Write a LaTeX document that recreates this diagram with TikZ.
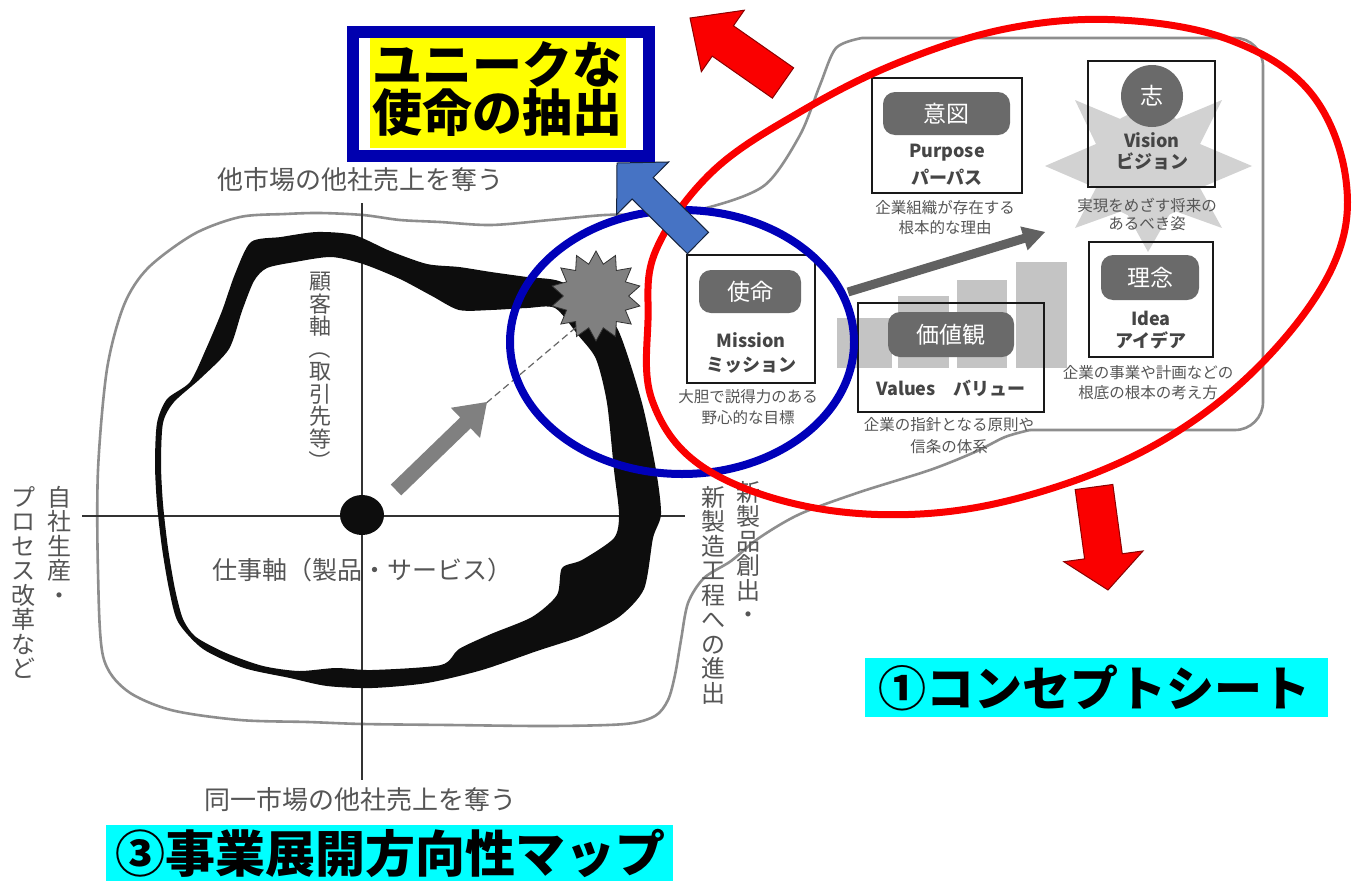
\documentclass[tikz,border=0pt]{standalone}
\usepackage{fontspec}
\setmainfont{Noto Sans CJK JP}
\usetikzlibrary{shapes.geometric}
\definecolor{lbl}{HTML}{555555}
\definecolor{boxtxt}{HTML}{454545}
\definecolor{pillc}{HTML}{6A6A6A}
\definecolor{ringblue}{RGB}{0,0,185}
\definecolor{titleblue}{RGB}{0,0,175}
\definecolor{ringred}{RGB}{250,0,0}
\definecolor{arrblue}{RGB}{70,115,196}
\definecolor{outlgray}{HTML}{8E8E8E}
\definecolor{barg}{HTML}{C4C4C4}
\definecolor{burstg}{HTML}{D2D2D2}
\definecolor{hlcyan}{RGB}{0,255,255}
\definecolor{hlyellow}{RGB}{255,255,0}
\newcommand\blockarrow[8]{%
 \pgfmathsetmacro\bdx{#3-#1}%
 \pgfmathsetmacro\bdy{#4-#2}%
 \pgfmathsetmacro\bang{atan2(-\bdy,\bdx)}%
 \pgfmathsetmacro\blen{veclen(\bdx,\bdy)}%
 \pgfmathsetmacro\bneck{\blen-#7}%
 \pgfmathsetmacro\bsw{#5/2}%
 \pgfmathsetmacro\bhw{#6/2}%
 \path[#8, shift={(#1,#2)}, rotate=\bang] (0,-\bsw) -- (\bneck,-\bsw) -- (\bneck,-\bhw) -- (\blen,0) -- (\bneck,\bhw) -- (\bneck,\bsw) -- (0,\bsw) -- cycle;}
\newcommand\vparen[1]{\rotatebox[origin=c]{-90}{#1}}
\tikzset{
 outl/.style={draw=outlgray, line width=2.6pt},
 axisline/.style={draw=black!80, line width=1.3pt},
 lbl/.style={text=lbl, inner sep=0pt, font=\fontsize{26}{26}\selectfont},
 vlbl/.style={text=lbl, inner sep=0pt, align=center, anchor=north, font=\fontsize{24}{24.5}\selectfont},
 cbox/.style={draw=black!90, line width=2.4pt, inner sep=0pt, outer sep=0pt},
 pillbox/.style={fill=pillc, rounded corners=12pt, inner sep=0pt, text=white, font=\fontsize{23}{23}\selectfont},
 btxt/.style={text=boxtxt, inner sep=0pt, font=\fontsize{18}{18}\selectfont\bfseries},
 captxt/.style={text=lbl, inner sep=0pt, font=\fontsize{15.5}{15.5}\selectfont},
 bigtitle/.style={inner sep=0pt, text=black, font=\fontsize{50}{50}\selectfont\bfseries},
}
\begin{document}
\begin{tikzpicture}[x=1pt,y=-1pt]
\useasboundingbox (0,0) rectangle (1357,881);
\fill[white] (0,0) rectangle (1357,881);

% ---------- gray outline (concept sheet + map blob)
\draw[outl, rounded corners=28pt] (1030,430) -- (1263,430) -- (1263,38) -- (862,38);
\draw[outl] plot[smooth, tension=0.5] coordinates {(862,38) (836,48) (820,85) (800,135) (765,185) (710,207) (660,214) (605,215) (550,220) (491,225) (440,222) (400,220) (363,215) (320,213) (285,214) (240,217) (194,234) (148,268) (124,305) (107,369) (98,470) (98,572) (103,656) (126,690) (171,710) (240,720) (308,722) (363,724) (450,725) (550,726) (625,724) (655,716) (668,700) (675,675) (681,640) (688,603) (704,578) (731,561) (759,538) (800,514) (860,492) (930,470) (975,452) (1005,437) (1030,430)};

% ---------- axes
\draw[axisline] (82,516) -- (685,516);
\draw[axisline] (362,203) -- (362,780);

% ---------- thick black loop
\fill[black!95, even odd rule]
 plot[smooth cycle, tension=0.45] coordinates {(251,242) (281,237) (317,232) (354,235) (390,251) (427,264) (459,267) (491,272) (527,277) (559,281) (595,300) (619,332) (642,403) (656,470) (661,514) (653,538) (644,589) (619,617) (582,636) (537,651) (482,670) (427,683) (372,688) (327,686) (290,678) (244,668) (203,649) (178,622) (169,589) (162,548) (157,504) (155,464) (157,423) (167,399) (190,382) (206,349) (222,311) (235,274)}
 plot[smooth cycle, tension=0.45] coordinates {(267,268) (295,262) (331,257) (363,264) (400,279) (432,296) (459,310) (491,310) (527,308) (555,308) (578,335) (596,359) (607,403) (614,470) (619,514) (614,538) (582,560) (562,568) (557,595) (532,617) (491,634) (459,649) (441,665) (372,670) (336,668) (299,671) (263,666) (226,653) (196,637) (183,619) (175,589) (168,548) (163,504) (161,464) (163,423) (174,402) (201,378) (229,349) (242,311) (254,281)};
\node[ellipse, fill=black!95, minimum width=44pt, minimum height=40pt, inner sep=0pt] (dot) at (362,515) {};

% ---------- dashed line, gray arrow, star
\coordinate (dstart) at (478,410);
\coordinate (dend) at (580,324);
\draw[draw=black!60, line width=1.2pt, dash pattern=on 7pt off 4pt] (dstart) -- (dend);
\blockarrow{396}{490}{487}{402}{15}{42}{30}{fill=black!50}
\node[star, star points=14, star point ratio=1.38, minimum size=90pt, inner sep=0pt, fill=black!50, draw=black!80, line width=0.8pt] (burst) at (596,296) {};

% ---------- map labels
\node[lbl] (ltop) at (360,180) {他市場の他社売上を奪う};
\node[lbl] (lbot) at (360,800) {同一市場の他社売上を奪う};
\node[lbl, font=\fontsize{25}{25}\selectfont] (lwork) at (362,570) {仕事軸（製品・サービス）};
\node[vlbl, font=\fontsize{22}{22.5}\selectfont] (lcust) at (320,272) {顧\\客\\軸\\\vparen{（}\\取\\引\\先\\等\\\vparen{）}};
\node[vlbl] (lself) at (59,486) {自\\社\\生\\産\\・};
\node[vlbl] (lproc) at (23,486) {プ\\ロ\\セ\\ス\\改\\革\\な\\ど};
\node[vlbl] (lnewp) at (748,481) {新\\製\\品\\創\\出\\・};
\node[vlbl] (lnewm) at (713,486) {新\\製\\造\\工\\程\\へ\\の\\進\\出};

% ---------- concept sheet: bars and burst
\fill[barg] (837,318) rectangle (892,368);
\fill[barg] (898,296) rectangle (949,368);
\fill[barg] (957,280) rectangle (1007,368);
\fill[barg] (1016,262) rectangle (1067,368);
\fill[burstg] (1252,166) -- (1200,144) -- (1222,100) -- (1172,121) -- (1148,78) -- (1125,121) -- (1075,100) -- (1096,144) -- (1045,166) -- (1096,188) -- (1075,228) -- (1125,210) -- (1148,252) -- (1172,210) -- (1222,228) -- (1200,188) -- cycle;
\fill[burstg] (1148,165) circle [radius=54];

% ---------- concept sheet boxes
\node[cbox, minimum width=150pt, minimum height=115pt] (purpose) at (947,135.5) {};
\node[pillbox, minimum width=127pt, minimum height=43pt] (ppill) at (946.5,113.5) {意図};
\node[btxt] (pen) at (947,153) {Purpose};
\node[btxt] (pjp) at (947,177) {パーパス};
\node[captxt] (pc1) at (945,208) {企業組織が存在する};
\node[captxt] (pc2) at (945,228) {根本的な理由};

\node[cbox, minimum width=127pt, minimum height=126pt] (vision) at (1151.5,124) {};
\node[circle, fill=pillc, minimum size=62pt, inner sep=0pt, text=white, font=\fontsize{23}{23}\selectfont] (vcirc) at (1152,96) {志};
\node[btxt] (ven) at (1152,140) {Vision};
\node[btxt] (vjp) at (1152,161) {ビジョン};
\node[captxt] (vc1) at (1147,205) {実現をめざす将来の};
\node[captxt] (vc2) at (1147,224) {あるべき姿};

\node[cbox, minimum width=128pt, minimum height=128pt] (mission) at (751,319) {};
\node[pillbox, minimum width=102pt, minimum height=43pt] (mpill) at (750,291.5) {使命};
\node[btxt] (men) at (751,340) {Mission};
\node[btxt] (mjp) at (751,365) {ミッション};
\node[captxt] (mc1) at (748,397) {大胆で説得力のある};
\node[captxt] (mc2) at (748,418) {野心的な目標};

\node[cbox, minimum width=186pt, minimum height=109pt] (values) at (951,357.5) {};
\node[pillbox, minimum width=126pt, minimum height=45pt] (vapill) at (951,334.5) {価値観};
\node[btxt] (vaen) at (951,388) {Values\hspace{18pt}バリュー};
\node[captxt] (vac1) at (949,425) {企業の指針となる原則や};
\node[captxt] (vac2) at (949,447) {信条の体系};

\node[cbox, minimum width=124pt, minimum height=115pt] (idea) at (1151,299.5) {};
\node[pillbox, minimum width=98pt, minimum height=45pt] (ipill) at (1150,277.5) {理念};
\node[btxt] (ien) at (1151,318) {Idea};
\node[btxt] (ijp) at (1151,340) {アイデア};
\node[captxt] (ic1) at (1148,373) {企業の事業や計画などの};
\node[captxt] (ic2) at (1148,393) {根底の根本の考え方};

\blockarrow{848}{292}{1045}{232}{9}{25}{22}{fill=black!62}

% ---------- rings
\draw[draw=ringblue, line width=8pt] (682,342) ellipse [x radius=172, y radius=132];
\draw[draw=ringred, line width=7pt] plot[smooth cycle, tension=0.62] coordinates {(656,250) (712,172) (800,112) (900,62) (1010,28) (1120,20) (1230,40) (1310,92) (1346,180) (1332,268) (1260,365) (1160,442) (1040,492) (920,514) (800,505) (700,465) (652,400) (648,320)};

% ---------- block arrows
\blockarrow{698}{243}{617}{163}{30}{74}{36}{fill=arrblue, draw=black!70!arrblue, line width=1pt}
\blockarrow{783}{83}{690}{18}{37}{75}{40}{fill=ringred, draw=red!55!black, line width=1pt}
\blockarrow{1094}{487}{1108}{590}{38}{80}{34}{fill=ringred, draw=red!55!black, line width=1pt}

% ---------- title box
\draw[draw=titleblue, fill=white, line width=12pt] (353,32) rectangle (649,156);
\fill[hlyellow] (370,38) rectangle (626,148);
\node[bigtitle] (t1) at (497,64) {ユニークな};
\node[bigtitle] (t2) at (497,113) {使命の抽出};

% ---------- section titles
\fill[hlcyan] (106,825) rectangle (673,881);
\node[bigtitle] (s3) at (390,853) {③事業展開方向性マップ};
\fill[hlcyan] (865,658) rectangle (1328,717);
\node[bigtitle, font=\fontsize{48}{48}\selectfont\bfseries] (s1) at (1094,688) {①コンセプトシート};
\end{tikzpicture}
\end{document}
